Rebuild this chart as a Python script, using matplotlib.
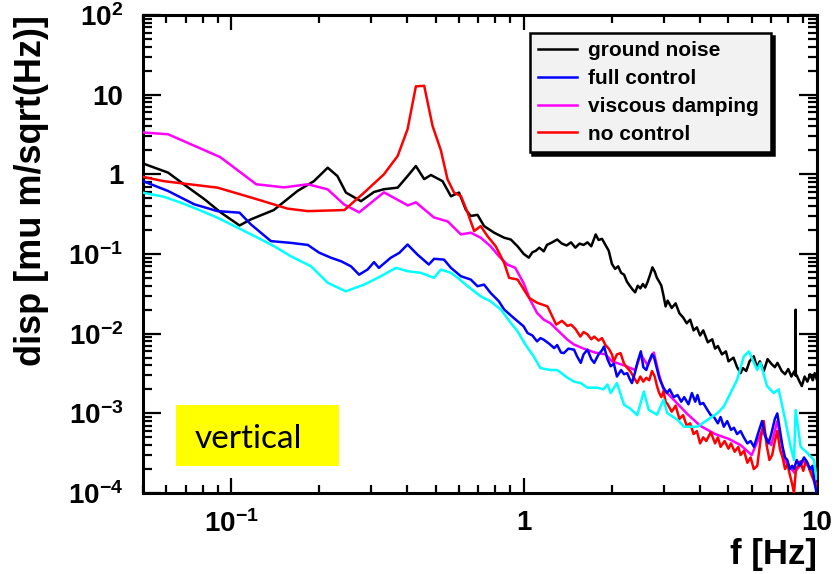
import matplotlib
matplotlib.use("Agg")
import matplotlib.pyplot as plt
from matplotlib.patches import Rectangle
from matplotlib.ticker import NullFormatter, LogLocator

plt.rcParams['font.family'] = ['Liberation Sans', 'DejaVu Sans']
plt.rcParams['font.weight'] = 'bold'
plt.rcParams['mathtext.fontset'] = 'custom'
plt.rcParams['mathtext.rm'] = 'Liberation Sans:bold'
plt.rcParams['mathtext.bf'] = 'Liberation Sans:bold'
plt.rcParams['mathtext.it'] = 'Liberation Sans:bold:italic'

# ---- data (frequency in Hz, displacement) ----
f_ground = [0.05, 0.061, 0.069, 0.081, 0.0925, 0.107, 0.117, 0.14, 0.169, 0.192, 0.214,
            0.231, 0.247, 0.278, 0.308, 0.333, 0.371, 0.401, 0.428, 0.457, 0.482, 0.528,
            0.564, 0.601, 0.634, 0.659, 0.695, 0.732, 0.792, 0.857, 0.903, 0.952, 1.0,
            1.04, 1.07, 1.1, 1.13, 1.17, 1.2, 1.25, 1.3, 1.35, 1.4, 1.45, 1.5, 1.55, 1.6,
            1.65, 1.7, 1.76, 1.8, 1.85, 1.9, 1.95, 2.0, 2.05, 2.1, 2.15, 2.2, 2.25, 2.3,
            2.35, 2.4, 2.45, 2.5, 2.55, 2.6, 2.65, 2.7, 2.75, 2.8, 2.85, 2.9, 2.95, 3.0,
            3.05, 3.1, 3.2, 3.3, 3.4, 3.5, 3.6, 3.7, 3.8, 3.9, 4.0, 4.1, 4.25, 4.4, 4.5,
            4.6, 4.75, 4.9, 5.0, 5.2, 5.35, 5.5, 5.6, 5.75, 5.9, 6.1, 6.25, 6.4, 6.6, 6.8,
            7.0, 7.2, 7.35, 7.6, 7.8, 8.0, 8.2, 8.4, 8.47, 8.48, 8.49, 8.55, 8.7, 8.9,
            9.1, 9.3, 9.5, 9.7, 9.85, 10.0]
d_ground = [1.37, 1.05, 0.75, 0.49, 0.33, 0.228, 0.272, 0.356, 0.62, 0.82, 1.21,
            0.95, 0.59, 0.46, 0.60, 0.65, 0.68, 0.95, 1.27, 0.87, 0.98, 0.82,
            0.53, 0.59, 0.36, 0.30, 0.31, 0.224, 0.185, 0.16, 0.152, 0.125, 0.10,
            0.09, 0.105, 0.11, 0.12, 0.108, 0.13, 0.14, 0.152, 0.135, 0.128, 0.14, 0.12, 0.135, 0.13,
            0.14, 0.125, 0.176, 0.15, 0.155, 0.13, 0.11, 0.075, 0.065, 0.07, 0.058, 0.055, 0.045, 0.04,
            0.036, 0.033, 0.04, 0.037, 0.042, 0.038, 0.045, 0.055, 0.068, 0.06, 0.05, 0.045, 0.04, 0.03,
            0.022, 0.026, 0.021, 0.024, 0.018, 0.016, 0.0135, 0.015, 0.011, 0.012, 0.0095, 0.011, 0.0078, 0.0085, 0.0065,
            0.007, 0.0055, 0.006, 0.0045, 0.005, 0.0038, 0.0032, 0.0037, 0.0034, 0.0045, 0.0052, 0.0038, 0.0045, 0.0034, 0.0048,
            0.0042, 0.0038, 0.0043, 0.0034, 0.0031, 0.0036, 0.0029, 0.0034, 0.003, 0.02, 0.003, 0.003, 0.0026, 0.0022,
            0.0029, 0.0025, 0.0031, 0.0026, 0.0032, 0.0027]

f_viscous = [0.05, 0.061, 0.092, 0.122, 0.152, 0.183, 0.214, 0.243, 0.274, 0.333, 0.402,
             0.428, 0.493, 0.55, 0.61, 0.659, 0.713, 0.77, 0.822, 0.877, 0.935, 0.998,
             1.05, 1.11, 1.17, 1.23, 1.41, 1.485, 1.6, 1.75, 1.9, 2.0, 2.2, 2.4, 2.51,
             2.65, 2.78, 2.9, 3.0, 3.3, 3.6, 4.0, 4.5, 5.0, 5.5, 6.0, 6.5, 7.0, 7.34,
             7.8, 8.4, 9.0, 9.6, 10.0]
d_viscous = [3.35, 3.18, 1.64, 0.75, 0.685, 0.75, 0.647, 0.42, 0.333, 0.594, 0.407,
             0.445, 0.288, 0.256, 0.176, 0.185, 0.160, 0.125, 0.094, 0.074, 0.067, 0.0434,
             0.0268, 0.0182, 0.0150, 0.0136, 0.0084, 0.0073, 0.0065, 0.0058, 0.0055, 0.0045, 0.004, 0.0035, 0.0055,
             0.004, 0.0058, 0.003, 0.002, 0.0014, 0.001, 0.0007, 0.00055, 0.00048, 0.0004, 0.0003, 0.0006, 0.0004, 0.0008,
             0.00025, 0.00018, 0.00025, 0.0002, 0.00012]

f_nocontrol = [0.05, 0.059, 0.09, 0.123, 0.156, 0.183, 0.244, 0.285, 0.333, 0.371, 0.401,
               0.428, 0.457, 0.488, 0.521, 0.549, 0.578, 0.61, 0.643, 0.677, 0.713, 0.751,
               0.802, 0.857, 0.891, 0.952, 1.043, 1.114, 1.205, 1.29, 1.35, 1.41, 1.45, 1.5,
               1.56, 1.6, 1.65, 1.7, 1.74, 1.8, 1.85, 1.9, 1.95, 2.0, 2.03, 2.08, 2.14, 2.2,
               2.26, 2.32, 2.38, 2.44, 2.5, 2.56, 2.62, 2.68, 2.74, 2.8, 2.85, 2.9, 2.95, 3.0,
               3.05, 3.1, 3.2, 3.3, 3.4, 3.5, 3.6, 3.7, 3.8, 3.9, 4.0, 4.1, 4.2, 4.35, 4.5,
               4.6, 4.7, 4.85, 5.0, 5.1, 5.25, 5.4, 5.5, 5.65, 5.8, 5.95, 6.1, 6.27, 6.45, 6.6,
               6.75, 6.9, 7.05, 7.2, 7.34, 7.5, 7.65, 7.8, 7.95, 8.1, 8.25, 8.37, 8.5, 8.65,
               8.8, 9.0, 9.2, 9.4, 9.6, 9.8, 10.0]
d_nocontrol = [0.93, 0.82, 0.68, 0.485, 0.371, 0.345, 0.356, 0.589, 1.0, 1.70, 3.68,
               12.7, 12.9, 4.05, 2.0, 0.865, 0.589, 0.533, 0.33, 0.194, 0.224, 0.168,
               0.125, 0.0774, 0.0502, 0.0478, 0.0281, 0.0243, 0.022, 0.013, 0.0145, 0.0125, 0.013, 0.0115,
               0.0092, 0.0105, 0.0098, 0.0085, 0.0092, 0.0082, 0.0088, 0.0072, 0.0065, 0.0055, 0.0045, 0.0055, 0.0057, 0.0042,
               0.0037, 0.0033, 0.0028, 0.0024, 0.0029, 0.0025, 0.0028, 0.0026, 0.0034, 0.0029, 0.0022, 0.0018, 0.0016, 0.0019,
               0.0014, 0.0013, 0.00105, 0.00125, 0.00085, 0.00095, 0.0007, 0.00075, 0.00055, 0.0006, 0.00042, 0.0005, 0.00045, 0.00058, 0.00042,
               0.0005, 0.00038, 0.00045, 0.00036, 0.00042, 0.00033, 0.00038, 0.0003, 0.00034, 0.00024, 0.00028, 0.0002, 0.00022, 0.0005, 0.0008,
               0.0004, 0.00026, 0.0003, 0.00045, 0.0006, 0.00035, 0.00028, 0.0002, 0.00023, 0.00017, 0.00013, 0.0001, 0.0002, 0.00022,
               0.00025, 0.00019, 0.00026, 0.00021, 0.00017, 0.00014, 0.00012]

f_full = [0.05, 0.061, 0.075, 0.09, 0.107, 0.117, 0.137, 0.16, 0.183, 0.2, 0.22, 0.238,
          0.257, 0.274, 0.293, 0.308, 0.32, 0.351, 0.376, 0.401, 0.433, 0.474, 0.494, 0.534,
          0.564, 0.61, 0.659, 0.695, 0.732, 0.77, 0.822, 0.857, 0.925, 0.998, 1.03, 1.07,
          1.11, 1.14, 1.17, 1.22, 1.27, 1.3, 1.34, 1.37, 1.42, 1.485, 1.52, 1.565, 1.6, 1.65,
          1.7, 1.74, 1.8, 1.85, 1.88, 1.93, 1.98, 2.03, 2.08, 2.15, 2.2, 2.255, 2.3, 2.34,
          2.4, 2.45, 2.51, 2.56, 2.62, 2.68, 2.74, 2.78, 2.84, 2.9, 2.95, 3.0, 3.08, 3.15,
          3.25, 3.35, 3.45, 3.53, 3.65, 3.75, 3.85, 3.92, 4.0, 4.1, 4.24, 4.35, 4.46, 4.6,
          4.7, 4.82, 4.95, 5.1, 5.22, 5.35, 5.5, 5.64, 5.8, 5.95, 6.11, 6.3, 6.51, 6.7, 6.85,
          7.0, 7.2, 7.34, 7.5, 7.65, 7.8, 7.94, 8.1, 8.25, 8.37, 8.55, 8.75, 9.06, 9.3, 9.5,
          9.68, 9.85, 10.0]
d_full = [0.824, 0.617, 0.42, 0.345, 0.33, 0.235, 0.145, 0.138, 0.13, 0.104, 0.0895, 0.081,
          0.070, 0.055, 0.064, 0.079, 0.067, 0.0895, 0.1035, 0.1315, 0.0986, 0.0738, 0.0871, 0.085,
          0.067, 0.0526, 0.0478, 0.0394, 0.0413, 0.0325, 0.0255, 0.0201, 0.0157, 0.0124, 0.0102, 0.0095,
          0.008, 0.0088, 0.0084, 0.0075, 0.0066, 0.0072, 0.0058, 0.0057, 0.0065, 0.0063, 0.0052, 0.0043, 0.0055, 0.0063,
          0.0048, 0.0043, 0.0055, 0.0062, 0.0069, 0.0048, 0.0039, 0.0042, 0.0029, 0.0035, 0.0031, 0.0032, 0.0027, 0.0024,
          0.0033, 0.0045, 0.006, 0.0038, 0.0035, 0.0045, 0.0055, 0.0052, 0.0038, 0.0028, 0.0024, 0.0021, 0.0018, 0.002,
          0.0016, 0.0017, 0.0014, 0.0016, 0.0013, 0.0018, 0.0014, 0.0017, 0.0013, 0.00135, 0.0011, 0.00095, 0.0009, 0.00075,
          0.0009, 0.00068, 0.0008, 0.00062, 0.00066, 0.00055, 0.0006, 0.0005, 0.00042, 0.00045, 0.00038, 0.00055, 0.0008, 0.0005, 0.00042,
          0.00055, 0.00085, 0.001, 0.0006, 0.00038, 0.00028, 0.00026, 0.0002, 0.00022, 0.0002, 0.00026, 0.00022, 0.00028, 0.00024, 0.0002,
          0.00022, 0.00013, 0.0001]

f_vert = [0.05, 0.059, 0.0675, 0.077, 0.09, 0.1054, 0.1234, 0.1405, 0.16, 0.1875, 0.214,
          0.2466, 0.285, 0.325, 0.366, 0.401, 0.445, 0.494, 0.521, 0.564, 0.595, 0.643,
          0.713, 0.77, 0.835, 0.903, 0.952, 1.013, 1.08, 1.14, 1.235, 1.3, 1.41, 1.485,
          1.565, 1.65, 1.79, 1.87, 1.93, 1.98, 2.08, 2.2, 2.3, 2.44, 2.57, 2.67, 2.85, 3.0,
          3.09, 3.35, 3.53, 3.92, 4.24, 4.59, 4.82, 5.08, 5.35, 5.64, 5.87, 6.11, 6.27, 6.43,
          6.77, 7.13, 7.42, 7.81, 8.15, 8.37, 8.48, 8.82, 9.29, 9.79, 10.0]
d_vert = [0.589, 0.523, 0.44, 0.363, 0.285, 0.214, 0.16, 0.125, 0.0938, 0.0703, 0.0435,
          0.034, 0.0413, 0.0526, 0.067, 0.0608, 0.058, 0.0502, 0.0638, 0.058, 0.0502, 0.0394,
          0.0294, 0.0255, 0.0201, 0.0136, 0.0107, 0.0073, 0.0052, 0.0037, 0.0035, 0.0035, 0.0028, 0.0025,
          0.0024, 0.0021, 0.0021, 0.002, 0.0023, 0.0018, 0.0024, 0.00128, 0.00116, 0.00095, 0.00188, 0.00111, 0.00096, 0.00148,
          0.00101, 0.00083, 0.00068, 0.00068, 0.00083, 0.00101, 0.00122, 0.0018, 0.00264, 0.00517, 0.006, 0.0043, 0.0035, 0.0043,
          0.0022, 0.0018, 0.002, 0.00083, 0.00038, 0.00026, 0.0011, 0.00038, 0.00032, 0.00026, 0.00015]

ytick_vals = [1e-4, 1e-3, 1e-2, 1e-1, 1, 10, 100]
ytick_labels = [r'$10^{-4}$', r'$10^{-3}$', r'$10^{-2}$', r'$10^{-1}$', '1', '10', r'$10^{2}$']
xtick_vals = [0.1, 1, 10]
xtick_labels = [r'$10^{-1}$', '1', '10']

fig = plt.figure(figsize=(8.35, 5.74), dpi=100)
ax = fig.add_axes([0.171, 0.141, 0.807, 0.833])

lw = 1.8
ax.plot(f_ground, d_ground, color='black', lw=lw, label='ground noise', zorder=2)
ax.plot(f_viscous, d_viscous, color='#ff00ff', lw=lw, label='viscous damping', zorder=3)
ax.plot(f_nocontrol, d_nocontrol, color='#ff0000', lw=lw, label='no control', zorder=4)
ax.plot(f_full, d_full, color='#0000ff', lw=lw, label='full control', zorder=5)
ax.plot(f_vert, d_vert, color='#00ffff', lw=lw, zorder=6)

ax.set_xscale('log')
ax.set_yscale('log')
ax.set_xlim(0.05, 10)
ax.set_ylim(1e-4, 1e2)

ax.set_xticks(xtick_vals, xtick_labels)
ax.set_yticks(ytick_vals, ytick_labels)
ax.xaxis.set_minor_locator(LogLocator(base=10, subs=range(2, 10)))
ax.yaxis.set_minor_locator(LogLocator(base=10, subs=range(2, 10), numticks=20))
ax.xaxis.set_minor_formatter(NullFormatter())
ax.yaxis.set_minor_formatter(NullFormatter())
ax.tick_params(axis='both', which='both', direction='in', top=True, right=True,
               width=1.6, labelsize=20, colors='black')
ax.tick_params(axis='y', which='major', length=13, pad=14)
ax.tick_params(axis='y', which='minor', length=6.5)
ax.tick_params(axis='x', which='major', length=11, pad=12)
ax.tick_params(axis='x', which='minor', length=5.5)
for s in ax.spines.values():
    s.set_linewidth(2.2)

ax.set_ylabel('disp [mu m/sqrt(Hz)]', fontsize=26, fontweight='bold', loc='top')
ax.yaxis.set_label_coords(-0.139, 1.0)
ax.set_xlabel('f [Hz]', fontsize=25, fontweight='bold', loc='right')
ax.xaxis.set_label_coords(1.0, -0.094)

handles, labels = ax.get_legend_handles_labels()
order = [0, 3, 1, 2]
leg = ax.legend([handles[i] for i in order], [labels[i] for i in order],
                loc='upper left', bbox_to_anchor=(0.574, 0.962, 0.359, 0.0), mode='expand',
                prop={'family': 'Liberation Sans', 'weight': 'bold', 'size': 15},
                fancybox=False, shadow={'color': 'black', 'alpha': 1.0},
                edgecolor='black', facecolor='#f2f2f2', framealpha=1.0,
                handlelength=1.9, labelspacing=0.42, borderpad=0.4, handletextpad=0.5,
                borderaxespad=0)
leg.get_frame().set_linewidth(1.8)

ax.add_patch(Rectangle((0.049, 0.0565), 0.242, 0.128, transform=ax.transAxes,
                       facecolor='#ffff00', edgecolor='none', zorder=7))
ax.text(0.077, 0.113, 'vertical', transform=ax.transAxes, fontsize=24,
        fontweight='normal', family=['Lato', 'DejaVu Sans'], ha='left', va='center', zorder=8)

fig.savefig('out.png', dpi=100)
